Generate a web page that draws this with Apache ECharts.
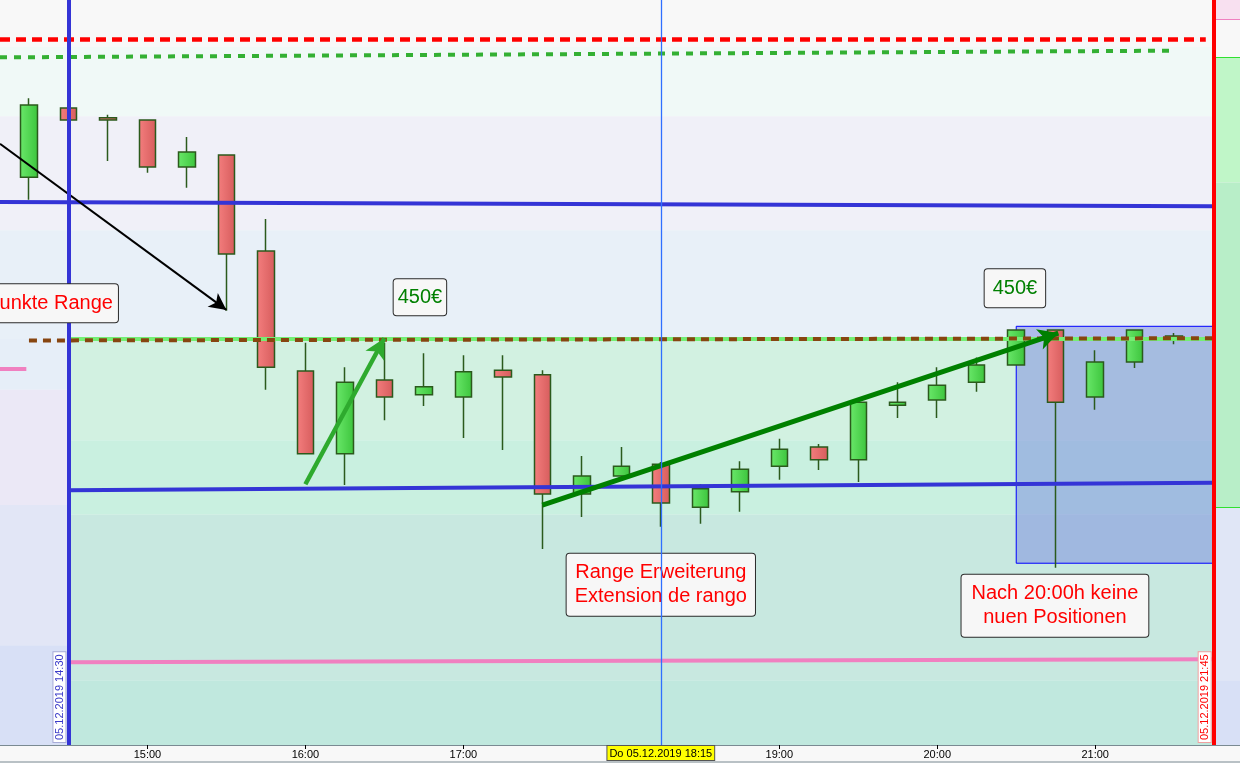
<!DOCTYPE html>
<html><head><meta charset="utf-8">
<script src="https://cdn.jsdelivr.net/npm/echarts@6/dist/echarts.min.js"></script>
<style>html,body{margin:0;padding:0;background:#f8f8f8}#c{width:1240px;height:763px}</style>
</head><body><div id="c"></div>
<script>
// ---------- data (time = minutes after midnight, price = index points) ----------
const times  = [855,870,885,900,915,930,945,960,975,990,1005,1020,1035,1050,1065,1080,1095,1110,1125,1140,1155,1170,1185,1200,1215,1230,1245,1260,1275,1290];
const opens  = [13176.2,13185.5,13184.2,13183.9,13177.6,13179.2,13166.3,13150.2,13139.1,13149.0,13147.0,13146.7,13150.3,13149.7,13133.7,13136.1,13137.7,13131.9,13134.0,13137.4,13140.0,13138.3,13145.6,13146.3,13148.7,13151.0,13155.7,13146.7,13151.4,13154.9];
const closes = [13185.9,13183.9,13183.9,13177.6,13179.6,13165.9,13150.7,13139.1,13148.7,13146.7,13148.1,13150.1,13149.4,13133.7,13136.1,13137.4,13132.5,13134.4,13137.0,13139.7,13138.3,13146.0,13146.0,13148.3,13151.0,13155.7,13146.0,13151.4,13155.7,13154.6];
const lows   = [13173.2,13183.9,13178.4,13176.8,13174.8,13158.3,13147.7,13139.1,13134.9,13143.6,13145.5,13141.2,13139.6,13126.3,13130.6,13135.8,13129.3,13129.7,13131.3,13135.6,13136.9,13135.3,13143.9,13143.9,13147.4,13151.0,13123.8,13145.0,13150.6,13153.8];
const highs  = [13186.8,13185.5,13184.6,13183.9,13181.6,13179.2,13170.6,13154.0,13150.7,13154.0,13152.6,13152.3,13152.3,13150.3,13138.8,13140.0,13138.0,13135.0,13138.1,13141.1,13140.4,13146.2,13148.7,13150.7,13152.0,13155.7,13155.7,13153.0,13155.7,13155.3];

const tickTimes  = [900,960,1020,1080,1140,1200,1260];
const labelTimes = [900,960,1020,1140,1200,1260];
const xMin = 844, xMax = 1315, yMin = 13100, yMax = 13200;

const redDashed    = [[844,13194.7],[1302,13194.7]];
const greenDashed  = [[844,13192.3],[1290,13193.2]];
const rangeHigh    = [[844,13172.9],[1305,13172.3]];
const rangeLow     = [[870,13134.2],[1305,13135.2]];
const pivotGreen   = [[870,13154.5],[1305,13154.5]];
const pivotBrown   = [[855,13154.3],[1305,13154.6]];
const supportPink  = [[870,13111.1],[1305,13111.5]];
const pinkStub     = [[844,13150.5],[854,13150.5]];
const arrowBlack   = [[844,13180.7],[930,13158.4]];
const arrowGreen1  = [[960,13135.0],[990,13154.6]];
const arrowGreen2  = [[1050,13132.2],[1246,13155.3]];
const boxAfter20   = [[1230,13156.2],[1305,13124.4]];
const sessionStart = 870, crossTime = 1095, sessionEnd = 1305;
const panelLevels  = [13197.4,13192.3,13131.9];

// background profile bands: [x from, x to, price top, price bottom]
const bands = [
  [844,1305,13193.7,13184.4],[844,1305,13184.4,13169.1],[844,1305,13169.1,13154.5],
  [844,870,13154.5,13147.7],[844,870,13147.7,13132.2],[844,870,13132.2,13113.4],[844,870,13113.4,13100],
  [870,1305,13154.5,13140.9],[870,1305,13140.9,13130.9],[870,1305,13130.9,13108.7],[870,1305,13108.7,13100],
  [1305,1315,13200,13197.4],[1305,1315,13197.4,13192.3],[1305,1315,13192.3,13175.5],[1305,1315,13175.5,13131.9],
  [1305,1315,13131.9,13108.7],[1305,1315,13108.7,13100]
];
const noteTexts   = ['Punkte Range','450€','450€','Range Erweiterung\nExtension de rango','Nach 20:00h keine\nnuen Positionen'];
const noteAnchors = [[888.8,13159.3],[1003.5,13160.1],[1229.5,13161.3],[1095,13121.5],[1244.7,13118.7]];
const startLabel = '05.12.2019 14:30', endLabel = '05.12.2019 21:45', crossLabel = 'Do 05.12.2019 18:15';

// ---------- styles ----------
const FONT = 'Liberation Sans, Arial, sans-serif';
const bandColors = ['#f0f9f7','#f0f0f8','#e8f0f8',
  '#e6eef8','#ebe8f6','#e2e6f6','#d8e0f6',
  '#d2f1e1','#c9f0e0','#c8e8e0','#c0e8de',
  '#f8e0f0','#f8f8f8','#c0f6c8','#b8eec8','#e0e6f6','#d8e0f6'];
const noteColors = ['#ff0000','#008000','#008000','#ff0000','#ff0000'];
const noteAlign  = ['right','center','center','center','center'];
const notePad    = [[7,5,7,5],[6,4,6,4],[7,8,7,8],[7,8,7,8],[7,10,7,10]];

const hhmm = m => String(Math.floor(m/60)).padStart(2,'0') + ':' + String(m%60).padStart(2,'0');
const candleData = times.map((t,i) => [t, opens[i], closes[i], lows[i], highs[i]]);

function seg(pts, style, endSymbol, endSize) {
  return [
    {coord: pts[0], symbol: 'none', lineStyle: style},
    {coord: pts[1], symbol: endSymbol || 'none', symbolSize: endSize || 0}
  ];
}

const chart = echarts.init(document.getElementById('c'));
chart.setOption({
  animation: false,
  backgroundColor: '#f8f8f8',
  grid: {left: 0, right: 0, top: 0, bottom: 18},
  xAxis: {
    type: 'value', min: xMin, max: xMax,
    axisLine: {show: true, lineStyle: {color: '#7a8a92', width: 1}},
    axisTick: {show: true, customValues: tickTimes, length: 4, lineStyle: {color: '#000'}},
    axisLabel: {customValues: labelTimes, formatter: v => hhmm(v), color: '#000', fontSize: 11, fontFamily: FONT, margin: 4},
    splitLine: {show: false}
  },
  yAxis: {type: 'value', min: yMin, max: yMax, show: false, splitLine: {show: false}},
  graphic: [{type: 'line', shape: {x1: 0, y1: 762, x2: 1240, y2: 762}, style: {stroke: '#7a8a92', lineWidth: 1}}],
  series: [
    { // background profile bands
      type: 'line', data: [], silent: true,
      markArea: {silent: true, z: 0, data: bands.map((b,i) => [
        {coord: [b[0], b[2]], itemStyle: {color: bandColors[i]}},
        {coord: [b[1], b[3]]}
      ])}
    },
    { // after-20h box
      type: 'line', data: [], silent: true,
      markArea: {silent: true, z: 1, data: [[
        {coord: boxAfter20[0], itemStyle: {color: 'rgba(120,136,224,0.5)', borderColor: '#0000ff', borderWidth: 1}},
        {coord: boxAfter20[1]}
      ]]}
    },
    {
      type: 'candlestick', z: 2, barWidth: 17,
      encode: {x: 0, y: [1,2,3,4]},
      data: candleData,
      itemStyle: {
        color: {type: 'linear', x: 0, y: 0, x2: 1, y2: 0, colorStops: [{offset: 0, color: '#6ae86a'}, {offset: 1, color: '#3cc43c'}]},
        color0: {type: 'linear', x: 0, y: 0, x2: 1, y2: 0, colorStops: [{offset: 0, color: '#f47e7e'}, {offset: 1, color: '#d65c5c'}]},
        borderColor: '#2b5a1c', borderColor0: '#2b5a1c', borderWidth: 1.5
      }
    },
    { // levels, arrows and session lines
      type: 'line', data: [], silent: true,
      markLine: {
        silent: true, z: 5, symbol: ['none','none'], label: {show: false}, emphasis: {disabled: true},
        data: [
          seg(redDashed,   {color: '#ff0000', width: 4.5, type: [10,6]}),
          seg(greenDashed, {color: '#33b033', width: 4, type: [7,7]}),
          seg(rangeHigh,   {color: '#3434d6', width: 4, type: 'solid'}),
          seg(rangeLow,    {color: '#3434d6', width: 4, type: 'solid'}),
          seg(pivotGreen,  {color: '#74ee74', width: 4, type: 'solid'}),
          seg(pivotBrown,  {color: '#874510', width: 4, type: [8,6]}),
          seg(supportPink, {color: '#f080c0', width: 4, type: 'solid'}),
          seg(pinkStub,    {color: '#f080c0', width: 4, type: 'solid'}),
          seg([[1305,panelLevels[0]],[1315,panelLevels[0]]], {color: '#f080c0', width: 1, type: 'solid'}),
          seg([[1305,panelLevels[1]],[1315,panelLevels[1]]], {color: '#30e030', width: 1, type: 'solid'}),
          seg([[1305,panelLevels[2]],[1315,panelLevels[2]]], {color: '#30e030', width: 1, type: 'solid'}),
          seg(arrowBlack,  {color: '#000000', width: 2, type: 'solid'}, 'arrow', [13,17]),
          seg(arrowGreen1, {color: '#2eaa2e', width: 4.5, type: 'solid'}, 'arrow', [16,20]),
          seg(arrowGreen2, {color: '#008000', width: 5, type: 'solid'}, 'arrow', [16,20]),
          {xAxis: sessionStart, lineStyle: {color: '#3434d6', width: 4, type: 'solid'},
            label: {show: true, position: 'insideStartTop', formatter: startLabel, color: '#3a3ac8', fontSize: 11, fontFamily: FONT,
              backgroundColor: '#ffffff', borderColor: '#a8acd8', borderWidth: 1, padding: [1,2,0,2], distance: 3}},
          {xAxis: sessionEnd, lineStyle: {color: '#ff0000', width: 4, type: 'solid'},
            label: {show: true, position: 'insideStartTop', formatter: endLabel, color: '#ff0000', fontSize: 11, fontFamily: FONT,
              backgroundColor: '#ffffff', borderColor: '#f0a0a0', borderWidth: 1, padding: [1,2,0,2], distance: 3}}
        ]
      }
    },
    { // text notes
      type: 'line', data: [], silent: true,
      markPoint: {
        silent: true, z: 6, symbol: 'circle', symbolSize: 1, itemStyle: {color: 'transparent'},
        data: noteTexts.map((t,i) => ({
          coord: noteAnchors[i], value: 0,
          label: {show: true, position: 'inside', formatter: t, color: noteColors[i], fontSize: 20, fontFamily: FONT,
            lineHeight: 24, align: noteAlign[i], verticalAlign: 'middle',
            backgroundColor: '#f7f7f7', borderColor: '#2a2a2a', borderWidth: 1, borderRadius: 3, padding: notePad[i]}
        }))
      }
    },
    { // crosshair
      type: 'line', data: [], silent: true,
      markLine: {
        silent: true, z: 7, symbol: ['none','none'], emphasis: {disabled: true},
        data: [{xAxis: crossTime, lineStyle: {color: '#2f6fff', width: 1.3, type: 'solid', opacity: 1},
          label: {show: true, position: 'start', formatter: crossLabel, color: '#000', fontSize: 11, fontFamily: FONT,
            backgroundColor: '#ffff00', borderColor: '#555', borderWidth: 1, padding: [2,2,1,2], distance: 1}}]
      }
    }
  ]
});
</script></body></html>
